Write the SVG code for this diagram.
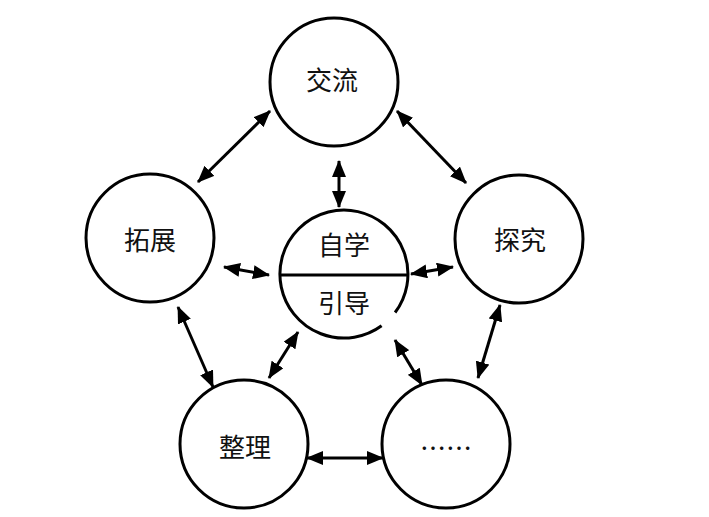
<svg xmlns="http://www.w3.org/2000/svg" width="709" height="517" viewBox="0 0 709 517">
<style>
.c{fill:none;stroke:#000;stroke-width:3}
.t{font-family:"Noto Sans CJK SC","Noto Sans",sans-serif;font-size:26px;text-anchor:middle;fill:#111}
.a{stroke:#000;stroke-width:3;fill:none;marker-start:url(#h);marker-end:url(#h)}
</style>
<defs>
<marker id="h" viewBox="0 0 17 14" refX="16" refY="7" markerWidth="17" markerHeight="14" markerUnits="userSpaceOnUse" orient="auto-start-reverse">
<path d="M0,0 L17,7 L0,14 z" fill="#000"/>
</marker>
</defs>
<rect width="709" height="517" fill="#fff"/>
<g id="jiaoliu"><circle class="c" cx="334" cy="82" r="64"/><text class="t" x="332" y="90">交流</text></g>
<g id="center">
<path class="c" d="M381.6 325.8 A64 64 0 1 1 395.1 312.5"/>
<line x1="280" y1="275" x2="408" y2="275" stroke="#000" stroke-width="3"/>
<text class="t" x="344" y="255">自学</text>
<text class="t" x="344" y="313">引导</text>
</g>
<g id="tuozhan"><circle class="c" cx="150" cy="238" r="64"/><text class="t" x="150" y="250">拓展</text></g>
<g id="tanjiu"><circle class="c" cx="519" cy="239" r="64"/><text class="t" x="520" y="250">探究</text></g>
<g id="zhengli"><circle class="c" cx="244" cy="444" r="64"/><text class="t" x="245" y="457">整理</text></g>
<g id="more"><circle class="c" cx="446" cy="444" r="64"/><text class="t" x="446" y="458">……</text></g>
<g id="connectors">
<line class="a" x1="198" y1="182" x2="270" y2="111"/>
<line class="a" x1="397" y1="111" x2="466" y2="183"/>
<line class="a" x1="339" y1="161" x2="339" y2="207"/>
<line class="a" x1="224" y1="267" x2="269" y2="275"/>
<line class="a" x1="411" y1="274" x2="453" y2="267"/>
<line class="a" x1="178" y1="307" x2="213" y2="387"/>
<line class="a" x1="298" y1="332" x2="269" y2="378"/>
<line class="a" x1="395" y1="340" x2="422" y2="385"/>
<line class="a" x1="500" y1="305" x2="478" y2="378"/>
<line class="a" x1="307" y1="458" x2="383" y2="458"/>
</g>
</svg>
